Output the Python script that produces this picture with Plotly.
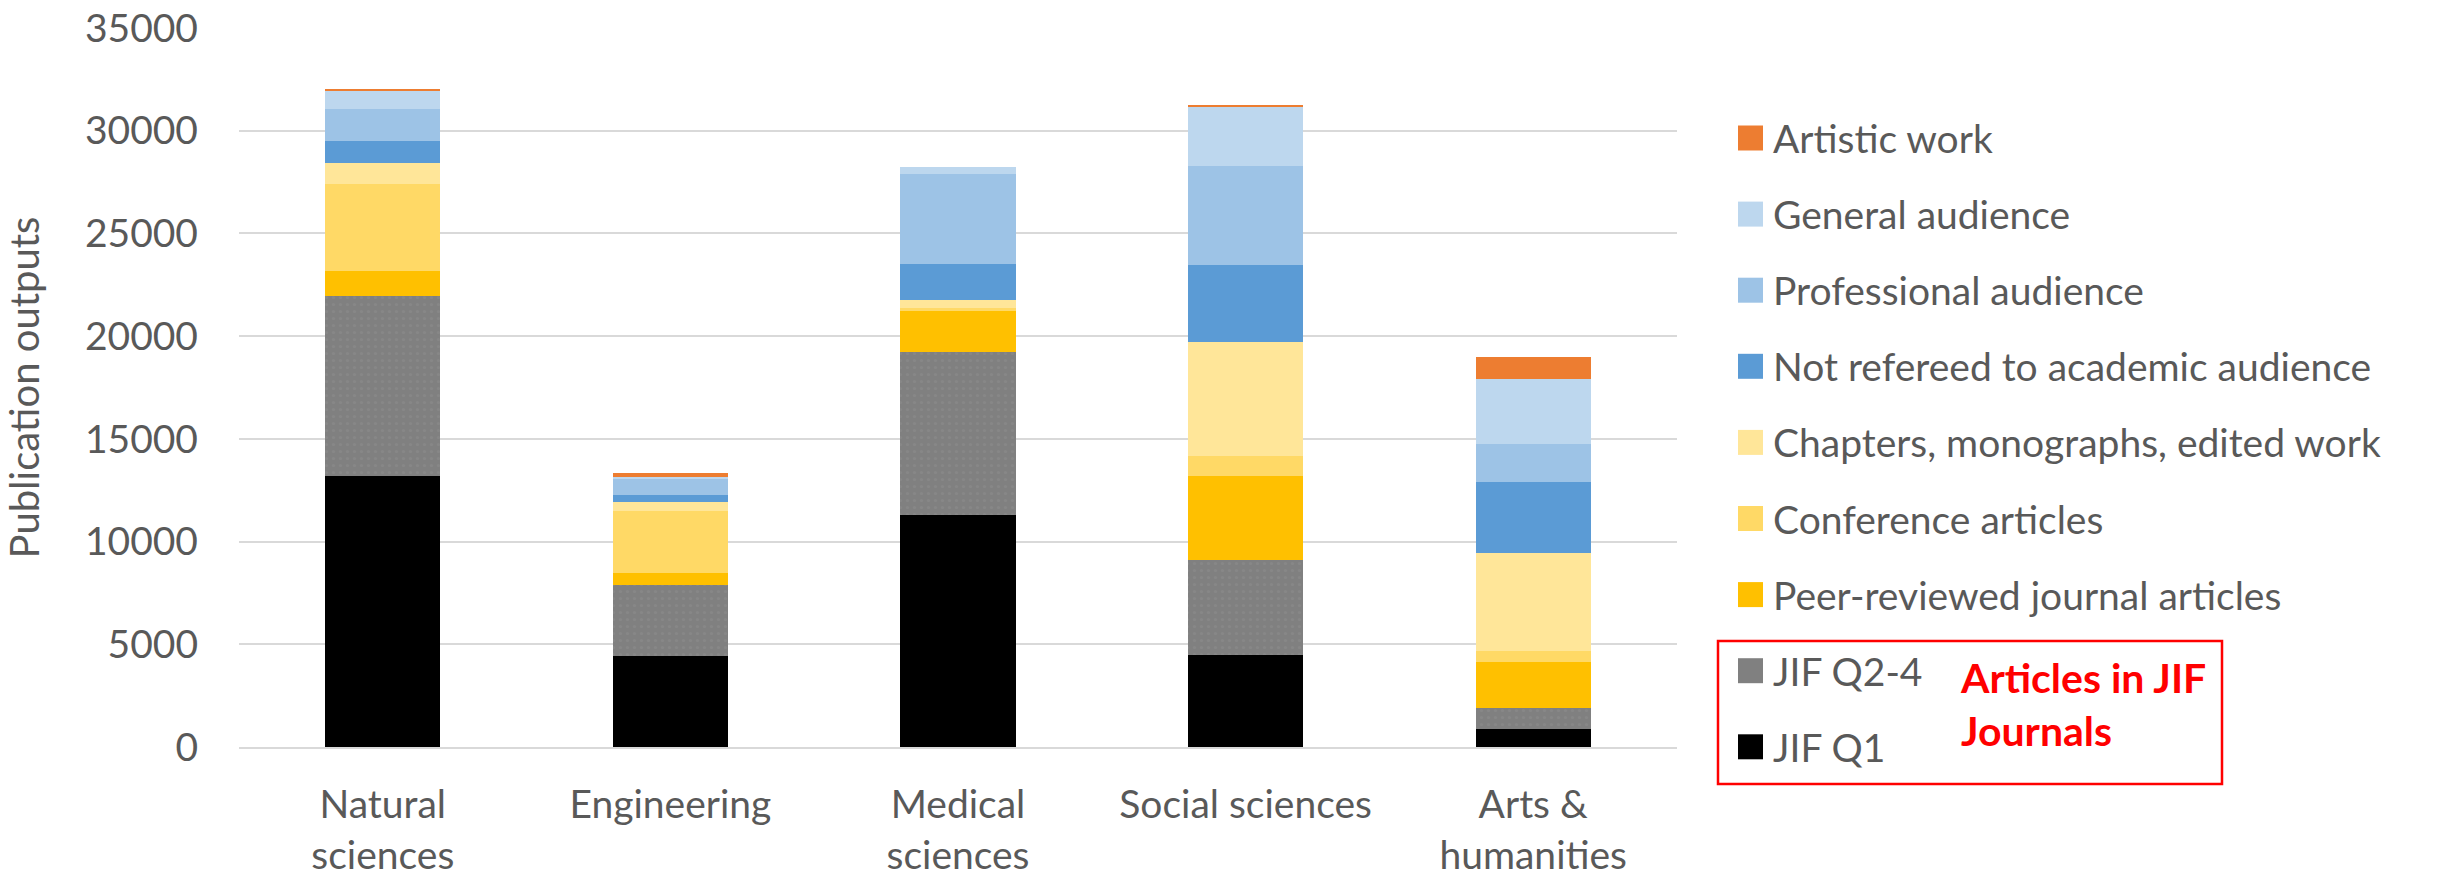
import plotly.graph_objects as go

categories = ["Natural<br>sciences", "Engineering", "Medical<br>sciences", "Social sciences", "Arts &<br>humanities"]

# series listed bottom -> top of each stack
series_names = ["JIF Q1", "JIF Q2-4", "Peer-reviewed journal articles", "Conference articles",
                "Chapters, monographs, edited work", "Not refereed to academic audience",
                "Professional audience", "General audience", "Artistic work"]

jif_q1        = [13170, 4410, 11290, 4490,  885]
jif_q2_4      = [8800,  3470, 7915,  4620, 1025]
peer_reviewed = [1220,   610, 1995,  4080, 2240]
conference    = [4210,  2995,  180,   960,  500]
chapters      = [1020,   440,  357,  5550, 4780]
not_refereed  = [1060,   340, 1753,  3780, 3470]
professional  = [1580,   780, 4400,  4820, 1840]
general       = [880,    100,  357,  2860, 3195]
artistic      = [80,     180,    0,    90, 1040]

series_values = [jif_q1, jif_q2_4, peer_reviewed, conference, chapters,
                 not_refereed, professional, general, artistic]
colors = ["#000000", "#808080", "#FFC000", "#FFD966", "#FFE699",
          "#5B9BD5", "#9DC3E6", "#BDD7EE", "#ED7D31"]

y_ticks = [0, 5000, 10000, 15000, 20000, 25000, 30000, 35000]

FONT = "Lato"
GREY = "#595959"
FS = 39

fig = go.Figure()
for name, vals, col in zip(series_names, series_values, colors):
    marker = dict(color=col, line=dict(width=0))
    if name == "JIF Q2-4":
        marker["pattern"] = dict(shape=".", fgcolor="#8e8e8e", size=7, solidity=0.15)
    fig.add_trace(go.Bar(x=categories, y=vals, name=name, marker=marker,
                         width=0.4, showlegend=False))

# plot area in pixels
L, R, T, B = 239, 1677, 28, 747
W, H = 2448, 878

def px_x(p):
    return (p - L) / (R - L)

def px_y(p):
    return (B - p) / (B - T)

shapes = []
annotations = []
legend_order = list(reversed(range(len(series_names))))
row0, step = 138, 76.1
for i, idx in enumerate(legend_order):
    cy = row0 + i * step
    shapes.append(dict(type="rect", xref="paper", yref="paper",
                       x0=px_x(1738), x1=px_x(1763), y0=px_y(cy + 12.5), y1=px_y(cy - 12.5),
                       fillcolor=colors[idx], line=dict(width=0)))
    annotations.append(dict(xref="paper", yref="paper", x=px_x(1771), y=px_y(cy),
                            xanchor="left", yanchor="middle", showarrow=False,
                            text=series_names[idx], font=dict(family=FONT, size=FS, color=GREY)))

# red box around JIF entries
shapes.append(dict(type="rect", xref="paper", yref="paper",
                   x0=px_x(1718), x1=px_x(2222), y0=px_y(784), y1=px_y(641),
                   line=dict(color="#FF0000", width=2.5), fillcolor="rgba(0,0,0,0)"))
annotations.append(dict(xref="paper", yref="paper", x=px_x(1958), y=px_y(704),
                        xanchor="left", yanchor="middle", showarrow=False, align="left",
                        text="<b>Articles in JIF<br>Journals</b>",
                        font=dict(family=FONT, size=41, color="#FF0000")))

fig.update_layout(
    barmode="stack",
    width=W, height=H,
    margin=dict(l=L, r=W - R, t=T, b=H - B, autoexpand=False),
    plot_bgcolor="white", paper_bgcolor="white",
    font=dict(family=FONT, size=FS, color=GREY),
    shapes=shapes, annotations=annotations,
    xaxis=dict(showline=True, linecolor="#d9d9d9", linewidth=2, ticks="",
               ticklabelstandoff=22,
               tickfont=dict(family=FONT, size=FS, color=GREY), showgrid=False,
               fixedrange=True),
    yaxis=dict(range=[0, 35000], tickvals=y_ticks, ticktext=[str(v) for v in y_ticks],
               showgrid=True, gridcolor="#d9d9d9", gridwidth=2, zeroline=False,
               showline=False, ticks="", ticklabelstandoff=40,
               tickfont=dict(family=FONT, size=FS, color=GREY),
               title=dict(text="Publication outputs", standoff=36,
                          font=dict(family=FONT, size=40, color=GREY))),
    showlegend=False,
)

fig.write_html("out.html")
